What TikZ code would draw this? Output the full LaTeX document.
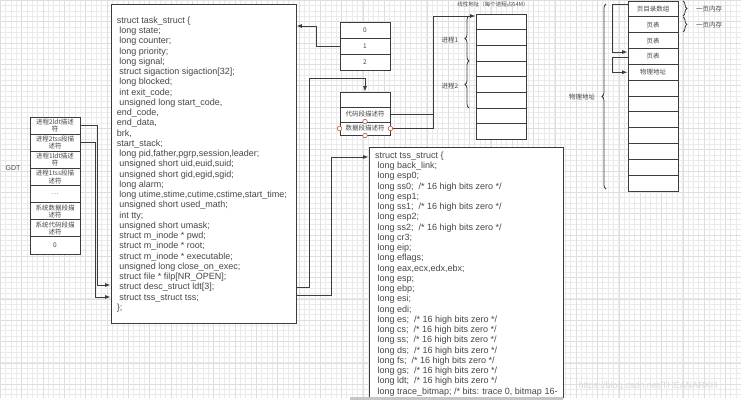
\documentclass[tikz,border=0pt]{standalone}
\usepackage{fontspec}
\setmainfont{Liberation Sans}
\newfontfamily\cjk{Noto Sans CJK SC}
\usetikzlibrary{arrows.meta,decorations.pathreplacing}

\definecolor{linec}{RGB}{60,60,60}
\definecolor{textc}{RGB}{70,70,70}
\definecolor{gridc}{RGB}{234,234,234}
\definecolor{gridm}{RGB}{222,222,222}
\definecolor{handlec}{RGB}{190,90,70}

\newcommand{\indl}{\hspace*{2.4pt}}

\tikzset{
  box/.style={draw=linec, line width=0.9pt, fill=white, inner sep=0pt},
  cell/.style={box, minimum width=50pt, align=center, text=textc,
    font=\cjk\fontsize{6.5}{7.3}\selectfont},
  code/.style={inner sep=0pt, align=left, text=textc,
    font=\fontsize{9}{10.25}\selectfont},
  tag/.style={inner sep=0pt, text=textc, font=\cjk\fontsize{6.5}{7.3}\selectfont},
  bracket/.style={draw=linec, line width=0.8pt, decorate,
    decoration={brace, amplitude=4pt}},
  link/.style={draw=linec, line width=0.9pt},
  handle/.style={draw=handlec, line width=0.6pt, fill=white},
}

\begin{document}
\begin{tikzpicture}[x=1pt,y=-1pt,>={Latex[length=5.5pt,width=4pt]}]
  \useasboundingbox (0,0) rectangle (741,411);
  \fill[white] (0,0) rectangle (741,411);

  % background grid
  \draw[gridc, line width=0.3pt, step=5.333pt] (0,0) grid (741,398);
  \draw[gridm, line width=0.3pt, step=21.333pt] (0,0) grid (741,398);

  % GDT
  \node[inner sep=0pt, text=textc, font=\fontsize{7}{8}\selectfont] (gdtlbl) at (13,168) {GDT};
  \foreach \lbl [count=\i] in {{进程2ldt描述\\符},{进程2tss段描\\述符},{进程1ldt描述\\符},
      {进程1tss段描\\述符},{\dots},{系统数据段描\\述符},{系统代码段描\\述符},{0}}
    \node[cell, minimum height=17.125pt] (gdt\i) at (55,{117+17.125*(\i-0.5)}) {\lbl};

  % task_struct
  \node[box, minimum width=185pt, minimum height=319pt] (task) at (203.5,163.5) {};
  \node[code, anchor=north west] (tasktext) at (116.7,16.7) {%
    struct task\_struct \{\\
    \indl long state;\\
    \indl long counter;\\
    \indl long priority;\\
    \indl long signal;\\
    \indl struct sigaction sigaction[32];\\
    \indl long blocked;\\
    \indl int exit\_code;\\
    \indl unsigned long start\_code,\\
    end\_code,\\
    end\_data,\\
    brk,\\
    start\_stack;\\
    \indl long pid,father,pgrp,session,leader;\\
    \indl unsigned short uid,euid,suid;\\
    \indl unsigned short gid,egid,sgid;\\
    \indl long alarm;\\
    \indl long utime,stime,cutime,cstime,start\_time;\\
    \indl unsigned short used\_math;\\
    \indl int tty;\\
    \indl unsigned short umask;\\
    \indl struct m\_inode * pwd;\\
    \indl struct m\_inode * root;\\
    \indl struct m\_inode * executable;\\
    \indl unsigned long close\_on\_exec;\\
    \indl struct file * filp[NR\_OPEN];\\
    \indl struct desc\_struct ldt[3];\\
    \indl struct tss\_struct tss;\\
    \};};

  % GDT entries to task_struct
  \draw[link,->] (gdt1.east) -- ++(17,0) |- (task.west |- 0,285);
  \draw[link,->] (gdt2.east) -- ++(15,0) |- (task.west |- 0,297);

  % 0 / 1 / 2
  \foreach \lbl [count=\i] in {0,1,2}
    \node[cell, minimum height=16pt] (row\i) at (365,{22+16*(\i-0.5)}) {\lbl};
  \draw[link,->] (row2.west) -- ++(-23,0) |- (task.east |- 0,26);

  % ldt
  \node[cell, minimum height=15pt] (ldtempty) at (365,99.5) {};
  \node[cell, minimum height=15pt] (ldtcode) at (365,114.5) {代码段描述符};
  \node[cell, minimum height=13pt] (ldtdata) at (365,128.5) {数据段描述符};
  \draw[link,->] (task.east |- 0,287) -| (309,78) -| (ldtempty.north);

  % tss_struct
  \node[box, minimum width=194pt, minimum height=252pt] (tss) at (466,273) {};
  \node[code, anchor=north west] (tsstext) at (375,151.7) {%
    struct tss\_struct \{\\
    \indl long back\_link;\\
    \indl long esp0;\\
    \indl long ss0;~ /* 16 high bits zero */\\
    \indl long esp1;\\
    \indl long ss1;~ /* 16 high bits zero */\\
    \indl long esp2;\\
    \indl long ss2;~ /* 16 high bits zero */\\
    \indl long cr3;\\
    \indl long eip;\\
    \indl long eflags;\\
    \indl long eax,ecx,edx,ebx;\\
    \indl long esp;\\
    \indl long ebp;\\
    \indl long esi;\\
    \indl long edi;\\
    \indl long es;~ /* 16 high bits zero */\\
    \indl long cs;~ /* 16 high bits zero */\\
    \indl long ss;~ /* 16 high bits zero */\\
    \indl long ds;~ /* 16 high bits zero */\\
    \indl long fs;~ /* 16 high bits zero */\\
    \indl long gs;~ /* 16 high bits zero */\\
    \indl long ldt;~ /* 16 high bits zero */\\
    \indl long trace\_bitmap; /* bits: trace 0, bitmap 16-};
  \draw[link,->] (task.east |- 0,295) -| (331,157) -- (tss.west |- 0,157);
  \fill[white] (340,398) rectangle (741,411);
  \fill[gray!45] (350,397) rectangle (563,399.5);

  % linear address space
  \node[tag, font=\cjk\fontsize{5.5}{6}\selectfont] (lintitle) at (493,4) {线性地址（每个进程占64M）};
  \foreach \i in {1,...,8}
    \node[cell, minimum height=15.7pt] (lin\i) at (501,{14+15.7*(\i-0.5)}) {};
  \coordinate (linbus) at (433,16);
  \draw[link] (ldtcode.east) -- (ldtcode.east -| linbus);
  \draw[link,->] (ldtdata.east) -| (linbus) -- (lin1.west |- linbus);
  \draw[bracket] (469,61) -- (469,16);
  \draw[bracket] (469,108) -- (469,61);
  \node[tag] (proc1) at (450,40) {进程1};
  \node[tag] (proc2) at (450,86) {进程2};

  % handles of the selected cell
  \foreach \a in {north,west,east,south}
    \draw[handle] (ldtdata.\a) circle (2.3pt);

  % physical memory
  \foreach \lbl [count=\i] in {页目录数组,页表,页表,页表,物理地址,{},{},{},{},{},{},{}}
    \node[cell, minimum height=15.83pt] (phy\i) at (653,{1+15.83*(\i-0.5)}) {\lbl};
  \draw[link,->] (phy1.west |- 0,4) -- ++(-15,0) |- (phy4.west |- 0,52);
  \draw[link,->] (phy4.west |- 0,57) -- ++(-15,0) |- (phy5.west);
  \draw[bracket] (683,1) -- (683,16);
  \draw[bracket] (683,16.8) -- (683,32);
  \node[tag] (page1) at (709,9) {一页内存};
  \node[tag] (page2) at (709,25) {一页内存};
  \draw[bracket] (606,189) -- (606,4);
  \node[tag] (phylbl) at (582,97) {物理地址};

  % watermark
  \node[inner sep=0pt, text=gray!30, font=\fontsize{9}{10}\selectfont] (mark) at (648,386)
    {https://blog.csdn.net/THEANARKH};
\end{tikzpicture}
\end{document}
